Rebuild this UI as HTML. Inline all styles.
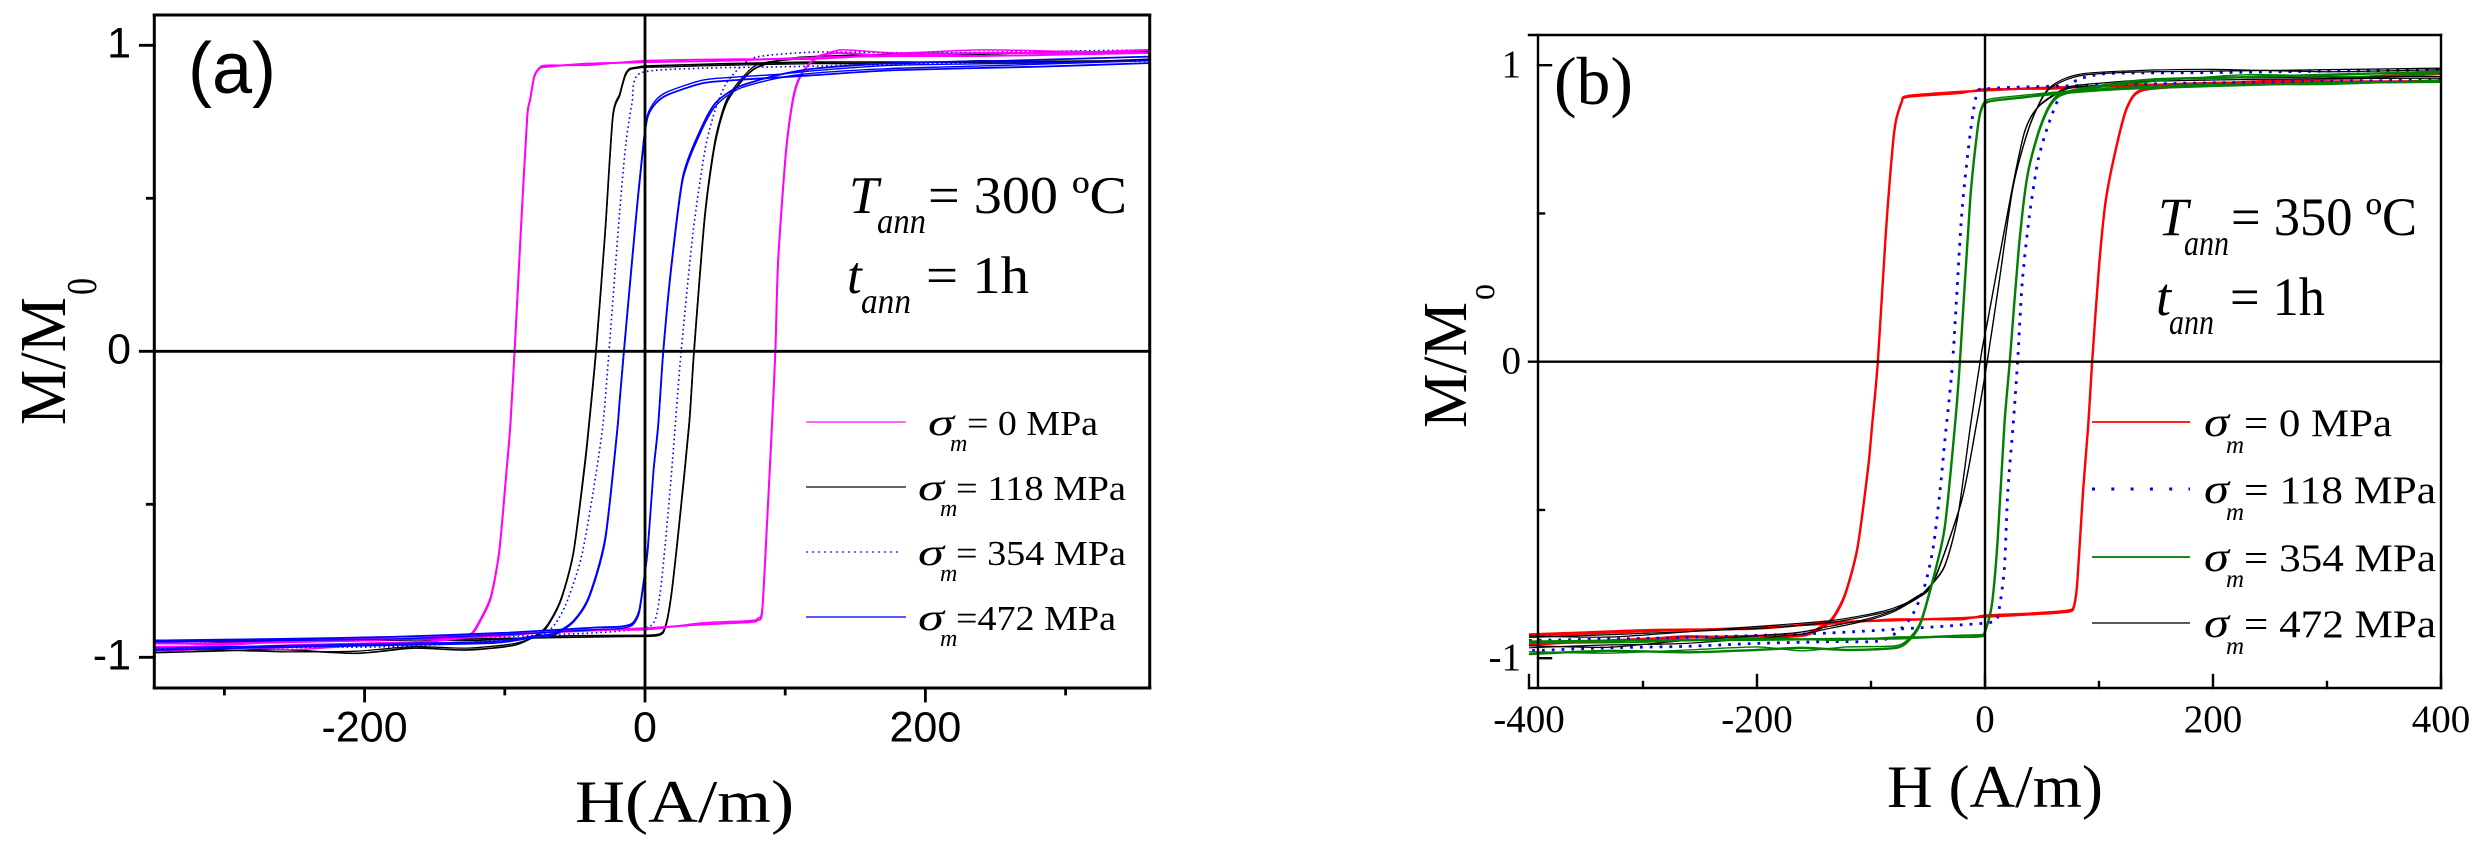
<!DOCTYPE html>
<html lang="en">
<head>
<meta charset="utf-8">
<title>Hysteresis loops</title>
<style>
html,body{margin:0;padding:0;background:#fff;}
svg{display:block;}
.sans{font-family:"Liberation Sans",Arial,sans-serif;}
.serif{font-family:"Liberation Serif","Times New Roman",serif;}
.it{font-style:italic;}
</style>
</head>
<body>
<svg id="figure" xmlns="http://www.w3.org/2000/svg" width="2484" height="850" viewBox="0 0 2484 850">
<rect x="0" y="0" width="2484" height="850" fill="#fff"/>

<g id="panelA">
  <g id="aCurves"></g>
  <g id="aAxes"></g>
  <text class="sans" x="188" y="93" font-size="72" textLength="88" lengthAdjust="spacingAndGlyphs">(a)</text>
  <text class="serif" transform="translate(65,425) rotate(-90)" font-size="66" textLength="128" lengthAdjust="spacingAndGlyphs">M/M</text>
  <text class="serif" transform="translate(96,295) rotate(-90)" font-size="42" textLength="17" lengthAdjust="spacingAndGlyphs">0</text>
  <text class="serif" x="575" y="822" font-size="60" textLength="219" lengthAdjust="spacingAndGlyphs">H(A/m)</text>

  <g>
    <text class="serif it" x="849" y="213" font-size="53">T</text>
    <text class="serif it" x="877" y="233" font-size="36" textLength="49" lengthAdjust="spacingAndGlyphs">ann</text>
    <text class="serif" x="928" y="213" font-size="53" textLength="199" lengthAdjust="spacingAndGlyphs">= 300 ºC</text>
  </g>
  <g>
    <text class="serif it" x="847" y="293" font-size="53">t</text>
    <text class="serif it" x="861" y="313" font-size="36" textLength="50" lengthAdjust="spacingAndGlyphs">ann</text>
    <text class="serif" x="926" y="293" font-size="53" textLength="103" lengthAdjust="spacingAndGlyphs">= 1h</text>
  </g>

  <g>
    <g>
      <line x1="806" x2="906" y1="422" y2="422" stroke="#ff66ff" stroke-width="2"/>
      <text class="serif it" x="928" y="435" font-size="38" textLength="26" lengthAdjust="spacingAndGlyphs">σ</text>
      <text class="serif it" x="950" y="451" font-size="24">m</text>
      <text class="serif" x="967" y="435" font-size="35" textLength="131" lengthAdjust="spacingAndGlyphs">= 0 MPa</text>
    </g>
    <g>
      <line x1="806" x2="906" y1="487" y2="487" stroke="#666" stroke-width="2"/>
      <text class="serif it" x="918" y="500" font-size="38" textLength="26" lengthAdjust="spacingAndGlyphs">σ</text>
      <text class="serif it" x="940" y="516" font-size="24">m</text>
      <text class="serif" x="956" y="500" font-size="35" textLength="170" lengthAdjust="spacingAndGlyphs">= 118 MPa</text>
    </g>
    <g>
      <line x1="806" x2="901" y1="552" y2="552" stroke="#6a6aff" stroke-width="2" stroke-dasharray="2 4"/>
      <text class="serif it" x="918" y="565" font-size="38" textLength="26" lengthAdjust="spacingAndGlyphs">σ</text>
      <text class="serif it" x="940" y="581" font-size="24">m</text>
      <text class="serif" x="956" y="565" font-size="35" textLength="170" lengthAdjust="spacingAndGlyphs">= 354 MPa</text>
    </g>
    <g>
      <line x1="806" x2="906" y1="617" y2="617" stroke="#5a5aff" stroke-width="2"/>
      <text class="serif it" x="918" y="630" font-size="38" textLength="26" lengthAdjust="spacingAndGlyphs">σ</text>
      <text class="serif it" x="940" y="646" font-size="24">m</text>
      <text class="serif" x="956" y="630" font-size="35" textLength="160" lengthAdjust="spacingAndGlyphs">=472 MPa</text>
    </g>
  </g>
</g>

<g id="panelB">
  <g id="bCurves"></g>
  <g id="bAxes"></g>
  <text class="serif" x="1554" y="104" font-size="68" textLength="79" lengthAdjust="spacingAndGlyphs">(b)</text>
  <text class="serif" transform="translate(1466,428) rotate(-90)" font-size="62" textLength="126" lengthAdjust="spacingAndGlyphs">M/M</text>
  <text class="serif" transform="translate(1494,300) rotate(-90)" font-size="38" textLength="16" lengthAdjust="spacingAndGlyphs">o</text>
  <text class="serif" x="1887" y="807" font-size="60" textLength="216" lengthAdjust="spacingAndGlyphs">H (A/m)</text>

  <g>
    <text class="serif it" x="2158" y="235" font-size="54">T</text>
    <text class="serif it" x="2184" y="255" font-size="36" textLength="45" lengthAdjust="spacingAndGlyphs">ann</text>
    <text class="serif" x="2231" y="235" font-size="54" textLength="186" lengthAdjust="spacingAndGlyphs">= 350 ºC</text>
  </g>
  <g>
    <text class="serif it" x="2156" y="315" font-size="54">t</text>
    <text class="serif it" x="2169" y="334" font-size="36" textLength="45" lengthAdjust="spacingAndGlyphs">ann</text>
    <text class="serif" x="2230" y="315" font-size="54" textLength="95" lengthAdjust="spacingAndGlyphs">= 1h</text>
  </g>

  <g>
    <g>
      <line x1="2092" x2="2190" y1="422" y2="422" stroke="#ff2222" stroke-width="2"/>
      <text class="serif it" x="2204" y="436" font-size="42" textLength="25" lengthAdjust="spacingAndGlyphs">σ</text>
      <text class="serif it" x="2226" y="453" font-size="25">m</text>
      <text class="serif" x="2244" y="436" font-size="39" textLength="148" lengthAdjust="spacingAndGlyphs">= 0 MPa</text>
    </g>
    <g>
      <line x1="2092" x2="2190" y1="489" y2="489" stroke="#0000ee" stroke-width="3" stroke-dasharray="3 16.3"/>
      <text class="serif it" x="2204" y="503" font-size="42" textLength="25" lengthAdjust="spacingAndGlyphs">σ</text>
      <text class="serif it" x="2226" y="520" font-size="25">m</text>
      <text class="serif" x="2244" y="503" font-size="39" textLength="192" lengthAdjust="spacingAndGlyphs">= 118 MPa</text>
    </g>
    <g>
      <line x1="2092" x2="2190" y1="557" y2="557" stroke="#1a8a1a" stroke-width="2"/>
      <text class="serif it" x="2204" y="571" font-size="42" textLength="25" lengthAdjust="spacingAndGlyphs">σ</text>
      <text class="serif it" x="2226" y="587" font-size="25">m</text>
      <text class="serif" x="2244" y="571" font-size="39" textLength="192" lengthAdjust="spacingAndGlyphs">= 354 MPa</text>
    </g>
    <g>
      <line x1="2092" x2="2190" y1="623" y2="623" stroke="#222" stroke-width="1.6"/>
      <text class="serif it" x="2204" y="637" font-size="42" textLength="25" lengthAdjust="spacingAndGlyphs">σ</text>
      <text class="serif it" x="2226" y="654" font-size="25">m</text>
      <text class="serif" x="2244" y="637" font-size="39" textLength="192" lengthAdjust="spacingAndGlyphs">= 472 MPa</text>
    </g>
  </g>
</g>
</svg>

<script>
/* ---------- Panel (a) tick data ---------- */
const aXMajorTicks = [-200, 0, 200];
const aXMinorTicks = [-300, -100, 100, 300];
const aYMajorTicks = [1, 0, -1];
const aYMinorTicks = [0.5, -0.5];
const aXTickLabels = ['-200', '0', '200'];
const aYTickLabels = ['1', '0', '-1'];

/* ---------- Panel (a) loops: H (A/m) and M/M0 ---------- */
const aMagDownH = [360,300,240,180,120,60,0,-40,-70,-75,-79,-82,-84,-88,-93,-96,-99,-104,-110,-118,-124,-135,-159,-200,-250,-300,-350];
const aMagDownM1 = [.975,.97,.965,.965,.96,.95,.945,.94,.93,.925,.897,.82,.766,.44,0,-.24,-.404,-.656,-.806,-.885,-.927,-.94,-.949,-.955,-.96,-.97,-.98];
const aMagDownM2 = [.985,.975,.975,.97,.955,.955,.95,.935,.935,.928,.9,.825,.77,.45,.01,-.23,-.4,-.65,-.8,-.88,-.922,-.935,-.955,-.96,-.975,-.965,-.965];
const aMagUpH = [-350,-300,-250,-200,-150,-100,-50,0,40,75,80.6,83.6,87,90.6,93,95,100.7,106,112,123,140,180,240,300,360];
const aMagUpM1 = [-.955,-.955,-.95,-.945,-.935,-.925,-.915,-.905,-.893,-.885,-.878,-.85,-.567,-.24,0,.298,.658,.832,.908,.963,.975,.965,.975,.975,.985];
const aMagUpM2 = [-.95,-.96,-.945,-.94,-.94,-.93,-.91,-.91,-.888,-.88,-.872,-.84,-.56,-.23,.01,.305,.665,.84,.912,.958,.985,.975,.985,.98,.975];

const aBlkDownH = [360,300,240,180,120,60,20,0,-6,-11,-14,-16.6,-18,-23,-28.5,-35,-40,-43,-51,-59.6,-68,-75,-93,-127,-166,-206,-260,-310,-350];
const aBlkDownM1 = [.95,.948,.945,.945,.945,.94,.935,.932,.928,.923,.905,.865,.84,.766,.386,0,-.24,-.37,-.656,-.806,-.884,-.92,-.96,-.976,-.97,-.987,-.975,-.98,-.985];
const aBlkDownM2 = [.955,.945,.95,.94,.94,.935,.93,.928,.925,.92,.9,.86,.835,.76,.38,-.01,-.25,-.38,-.66,-.81,-.888,-.925,-.955,-.97,-.965,-.98,-.982,-.975,-.98];
const aBlkUpH = [-350,-280,-200,-120,-60,-20,9,14.6,18.8,24.4,31.5,35,42.7,50,58,69.6,81,109,180,240,300,360];
const aBlkUpM1 = [-.945,-.95,-.945,-.94,-.935,-.932,-.929,-.9,-.796,-.567,-.24,0,.44,.68,.81,.887,.93,.96,.971,.975,.975,.98];
const aBlkUpM2 = [-.95,-.945,-.94,-.945,-.93,-.928,-.925,-.895,-.79,-.56,-.23,.01,.45,.69,.82,.895,.938,.955,.966,.97,.98,.975];

const aDotDownH = [360,280,200,100,40,-3.8,-9.3,-13.6,-18,-25.7,-30,-37,-45.6,-56.7,-66.6,-79,-120,-177,-250,-350];
const aDotDownM = [.948,.945,.94,.93,.925,.908,.81,.68,.46,0,-.24,-.46,-.677,-.83,-.905,-.933,-.95,-.965,-.968,-.972];
const aDotUpH = [-350,-250,-150,-60,-20,4.7,10.3,14.6,18.8,21.6,25.8,34.2,42.8,50,58,69.6,81,123,200,280,360];
const aDotUpM = [-.955,-.95,-.94,-.925,-.915,-.895,-.806,-.622,-.404,-.24,0,.386,.658,.788,.876,.936,.963,.978,.975,.98,.985];

const aBluDownH = [360,280,180,123,95,67,41,16,7.6,2,-1,-6.3,-15,-18,-20,-28.5,-40,-51,-65,-82,-108,-180,-291,-350];
const aBluDownM1 = [.942,.93,.919,.903,.895,.887,.876,.838,.81,.767,.68,.44,0,-.16,-.27,-.62,-.806,-.884,-.927,-.937,-.953,-.96,-.97,-.976];
const aBluDownM2 = [.95,.942,.935,.918,.905,.897,.886,.848,.82,.775,.69,.45,.01,-.15,-.26,-.61,-.8,-.88,-.922,-.932,-.948,-.955,-.965,-.97];
const aBluUpH = [-350,-260,-178,-100,-37,-18,-9.3,-4.3,-1,2,6,9.4,13,18.7,27,38.5,50,67,95,123,180,260,360];
const aBluUpM1 = [-.945,-.94,-.933,-.92,-.903,-.9,-.89,-.85,-.753,-.644,-.393,-.24,0,.276,.57,.713,.81,.865,.903,.925,.942,.95,.963];
const aBluUpM2 = [-.95,-.945,-.94,-.926,-.91,-.906,-.896,-.858,-.76,-.65,-.4,-.25,-.01,.266,.56,.703,.8,.858,.893,.91,.925,.935,.95];

/* ---------- Panel (b) tick data ---------- */
const bXMajorTicks = [-400, -200, 0, 200, 400];
const bXMinorTicks = [-300, -100, 100, 300];
const bYMajorTicks = [1, -1];
const bYMinorTicks = [0.5, -0.5];
const bXTickLabels = ['-400', '-200', '0', '200', '400'];
const bYTickLabels = ['1', '0', '-1'];
const bYLabelValues = [1, 0, -1];

/* ---------- Panel (b) loops ---------- */
const bRedDownH = [400,300,200,120,60,0,-22,-68,-73,-78,-81,-87,-94,-99,-102.6,-112,-123,-134,-144,-159,-200,-262,-330,-400];
const bRedDownM1 = [.945,.945,.94,.93,.925,.915,.91,.896,.877,.815,.725,.434,0,-.213,-.36,-.63,-.787,-.866,-.894,-.92,-.925,-.93,-.94,-.955];
const bRedDownM2 = [.95,.94,.935,.935,.92,.92,.905,.892,.872,.81,.72,.43,-.005,-.218,-.365,-.636,-.793,-.872,-.9,-.925,-.932,-.925,-.945,-.948];
const bRedUpH = [-400,-350,-294,-200,-137,-80,-22,0,40,73,78,81,86,90.6,94,100,106,116,125,139,197,260,330,400];
const bRedUpM1 = [-.92,-.913,-.905,-.9,-.88,-.872,-.865,-.86,-.852,-.843,-.826,-.742,-.438,-.213,0,.32,.545,.737,.86,.916,.933,.945,.96,.975];
const bRedUpM2 = [-.925,-.918,-.91,-.895,-.885,-.868,-.87,-.855,-.848,-.838,-.82,-.736,-.43,-.205,.006,.325,.55,.742,.865,.92,.938,.95,.955,.97];

const bGrnDownH = [400,300,200,120,65.5,30,3,-3.4,-7,-13,-22,-26,-35,-43,-56,-65,-78,-122,-160,-200,-260,-330,-400];
const bGrnDownM1 = [.944,.94,.93,.92,.905,.89,.877,.849,.77,.545,0,-.2,-.55,-.696,-.877,-.933,-.965,-.972,-.965,-.972,-.98,-.975,-.986];
const bGrnDownM2 = [.95,.935,.935,.925,.91,.897,.885,.855,.775,.55,.005,-.195,-.545,-.69,-.87,-.926,-.958,-.962,-.975,-.962,-.972,-.983,-.978];
const bGrnUpH = [-400,-300,-200,-130,-74,-22,-3.4,0,6,11,17,21.7,29.5,37,46.6,56,67,100,147,230,320,400];
const bGrnUpM1 = [-.944,-.94,-.938,-.935,-.933,-.924,-.922,-.91,-.82,-.607,-.213,0,.377,.623,.77,.86,.905,.93,.952,.96,.97,.978];
const bGrnUpM2 = [-.95,-.946,-.932,-.94,-.928,-.93,-.928,-.916,-.826,-.613,-.22,-.006,.37,.616,.763,.853,.898,.925,.945,.968,.962,.972];

const bDotDownH = [400,280,160,70,20,0,-6,-9.6,-14,-20.6,-28.4,-35,-39.5,-45.6,-53.5,-66.7,-90,-134,-200,-262,-330,-400];
const bDotDownM = [.95,.945,.938,.93,.925,.92,.915,.86,.737,.488,0,-.257,-.438,-.63,-.763,-.872,-.94,-.944,-.95,-.96,-.965,-.975];
const bDotUpH = [-400,-262,-137,-43,-22,7.5,12,17,20,24.7,28.6,32.6,38.8,46.6,56,67,81,109,200,300,400];
const bDotUpM = [-.94,-.93,-.915,-.894,-.888,-.877,-.843,-.696,-.438,-.213,0,.265,.488,.68,.804,.905,.95,.972,.975,.98,.984];

const bBlkDownH = [400,300,200,140,103,72,47,34.4,22,3,-3,-12.6,-24,-36,-53.5,-59,-81,-106,-137,-168,-262,-330,-400];
const bBlkDownM1 = [.956,.955,.95,.945,.933,.92,.86,.77,.545,.15,.03,-.213,-.527,-.696,-.78,-.797,-.845,-.875,-.9,-.922,-.95,-.955,-.965];
const bBlkDownM2 = [.962,.96,.956,.95,.94,.925,.862,.772,.548,.153,.033,-.21,-.524,-.693,-.777,-.79,-.84,-.87,-.893,-.915,-.94,-.963,-.958];
const bBlkUpH = [-400,-325,-200,-137,-106,-81,-59,-45,-20.6,-7.5,2,12.3,24.7,38.8,52.8,67,87.5,134,200,300,400];
const bBlkUpM1 = [-.93,-.92,-.9,-.88,-.86,-.838,-.797,-.742,-.472,-.213,0,.265,.59,.79,.905,.944,.967,.977,.98,.985,.99];
const bBlkUpM2 = [-.925,-.928,-.893,-.874,-.855,-.832,-.794,-.739,-.469,-.21,.003,.268,.593,.793,.908,.95,.972,.982,.986,.978,.985];

/* ---------- Axis functions ---------- */
function aX(h) { return 645 + 1.402 * h; }
function aY(m) { return 351.3 - 306 * m; }
function bX(h) { return 1985 + 1.14 * h; }
function bY(m) { return 361.7 - 296.5 * m; }

const SVG_NS = 'http://www.w3.org/2000/svg';

function smoothPath(xs, ys) {
  let d = 'M' + xs[0].toFixed(2) + ' ' + ys[0].toFixed(2);
  for (let i = 0; i < xs.length - 1; i++) {
    const p0 = Math.max(i - 1, 0), p3 = Math.min(i + 2, xs.length - 1);
    const c1x = xs[i] + (xs[i + 1] - xs[p0]) / 8;
    const c1y = ys[i] + (ys[i + 1] - ys[p0]) / 8;
    const c2x = xs[i + 1] - (xs[p3] - xs[i]) / 8;
    const c2y = ys[i + 1] - (ys[p3] - ys[i]) / 8;
    d += 'C' + c1x.toFixed(2) + ' ' + c1y.toFixed(2) + ' ' + c2x.toFixed(2) + ' ' + c2y.toFixed(2) + ' ' + xs[i + 1].toFixed(2) + ' ' + ys[i + 1].toFixed(2);
  }
  return d;
}

function drawTrace(parent, xFn, yFn, hs, ms, name, color, width, dash) {
  const el = document.createElementNS(SVG_NS, 'path');
  el.setAttribute('d', smoothPath(hs.map(xFn), ms.map(yFn)));
  el.setAttribute('fill', 'none');
  el.setAttribute('stroke', color);
  el.setAttribute('stroke-width', width);
  el.setAttribute('stroke-linejoin', 'round');
  if (dash) el.setAttribute('stroke-dasharray', dash);
  
  
  parent.appendChild(el);
}

function drawLine(parent, x1, y1, x2, y2, width, name) {
  const el = document.createElementNS(SVG_NS, 'line');
  el.setAttribute('x1', x1);
  el.setAttribute('y1', y1);
  el.setAttribute('x2', x2);
  el.setAttribute('y2', y2);
  el.setAttribute('stroke', '#000');
  el.setAttribute('stroke-width', width);
  el.setAttribute('stroke-linecap', 'square');
  
  
  parent.appendChild(el);
}

function drawLabel(parent, x, y, str, cls, size, anchor, name) {
  const el = document.createElementNS(SVG_NS, 'text');
  el.setAttribute('x', x);
  el.setAttribute('y', y);
  el.setAttribute('class', cls);
  el.setAttribute('font-size', size);
  el.setAttribute('text-anchor', anchor);
  
  
  el.textContent = str;
  parent.appendChild(el);
}

/* ---------- Panel (a) ---------- */
const aCurves = document.getElementById('aCurves');
const aAxes = document.getElementById('aAxes');
const BLK = '#000', MAG = '#ff00ff', BLU = '#0000ff', RED = '#ff0000', GRN = '#008000';

drawTrace(aCurves, aX, aY, aBlkDownH, aBlkDownM1, 'curve-a-118-mpa-descending', BLK, 1.7);
drawTrace(aCurves, aX, aY, aBlkDownH, aBlkDownM2, 'curve-a-118-mpa-descending-repeat', BLK, 1.3);
drawTrace(aCurves, aX, aY, aBlkUpH, aBlkUpM1, 'curve-a-118-mpa-ascending', BLK, 1.7);
drawTrace(aCurves, aX, aY, aBlkUpH, aBlkUpM2, 'curve-a-118-mpa-ascending-repeat', BLK, 1.3);
drawTrace(aCurves, aX, aY, aDotDownH, aDotDownM, 'curve-a-354-mpa-descending', BLU, 1.6, '1.6 3');
drawTrace(aCurves, aX, aY, aDotUpH, aDotUpM, 'curve-a-354-mpa-ascending', BLU, 1.6, '1.6 3');
drawTrace(aCurves, aX, aY, aMagDownH, aMagDownM1, 'curve-a-0-mpa-descending', MAG, 2);
drawTrace(aCurves, aX, aY, aMagDownH, aMagDownM2, 'curve-a-0-mpa-descending-repeat', MAG, 1.5);
drawTrace(aCurves, aX, aY, aMagUpH, aMagUpM1, 'curve-a-0-mpa-ascending', MAG, 2);
drawTrace(aCurves, aX, aY, aMagUpH, aMagUpM2, 'curve-a-0-mpa-ascending-repeat', MAG, 1.5);
drawTrace(aCurves, aX, aY, aBluDownH, aBluDownM1, 'curve-a-472-mpa-descending', BLU, 1.8);
drawTrace(aCurves, aX, aY, aBluDownH, aBluDownM2, 'curve-a-472-mpa-descending-repeat', BLU, 1.4);
drawTrace(aCurves, aX, aY, aBluUpH, aBluUpM1, 'curve-a-472-mpa-ascending', BLU, 1.8);
drawTrace(aCurves, aX, aY, aBluUpH, aBluUpM2, 'curve-a-472-mpa-ascending-repeat', BLU, 1.4);

const aLeft = aX(-350), aRight = aX(360), aTop = 15, aBottom = 688;
drawLine(aAxes, aLeft, aTop, aRight, aTop, 3, 'panel-a-top-border');
drawLine(aAxes, aRight, aTop, aRight, aBottom, 3, 'panel-a-right-border');
drawLine(aAxes, aLeft, aBottom, aRight, aBottom, 3, 'panel-a-x-axis');
drawLine(aAxes, aLeft, aTop, aLeft, aBottom, 3, 'panel-a-y-axis');
drawLine(aAxes, aX(0), aTop, aX(0), aBottom, 2.8, 'panel-a-zero-vertical-line');
drawLine(aAxes, aLeft, aY(0), aRight, aY(0), 2.8, 'panel-a-zero-horizontal-line');
aXMajorTicks.forEach(function (v) { drawLine(aAxes, aX(v), aBottom, aX(v), aBottom + 13, 2.8, 'panel-a-x-major-tick'); });
aXMinorTicks.forEach(function (v) { drawLine(aAxes, aX(v), aBottom, aX(v), aBottom + 6, 2.8, 'panel-a-x-minor-tick'); });
aYMajorTicks.forEach(function (v) { drawLine(aAxes, aLeft, aY(v), aLeft - 14, aY(v), 2.8, 'panel-a-y-major-tick'); });
aYMinorTicks.forEach(function (v) { drawLine(aAxes, aLeft, aY(v), aLeft - 7, aY(v), 2.8, 'panel-a-y-minor-tick'); });
aXMajorTicks.forEach(function (v, i) { drawLabel(aAxes, aX(v), 741.7, aXTickLabels[i], 'sans', 43, 'middle', 'panel-a-x-tick-label'); });
aYMajorTicks.forEach(function (v, i) { drawLabel(aAxes, 131, aY(v) + 12, aYTickLabels[i], 'sans', 43, 'end', 'panel-a-y-tick-label'); });

/* ---------- Panel (b) ---------- */
const bCurves = document.getElementById('bCurves');
const bAxes = document.getElementById('bAxes');

drawTrace(bCurves, bX, bY, bRedDownH, bRedDownM1, 'curve-b-0-mpa-descending', RED, 2.4);
drawTrace(bCurves, bX, bY, bRedDownH, bRedDownM2, 'curve-b-0-mpa-descending-repeat', RED, 1.6);
drawTrace(bCurves, bX, bY, bRedUpH, bRedUpM1, 'curve-b-0-mpa-ascending', RED, 2.4);
drawTrace(bCurves, bX, bY, bRedUpH, bRedUpM2, 'curve-b-0-mpa-ascending-repeat', RED, 1.6);
drawTrace(bCurves, bX, bY, bDotDownH, bDotDownM, 'curve-b-118-mpa-descending', '#0000ee', 2.8, '2.8 7');
drawTrace(bCurves, bX, bY, bDotUpH, bDotUpM, 'curve-b-118-mpa-ascending', '#0000ee', 2.8, '2.8 7');
drawTrace(bCurves, bX, bY, bBlkDownH, bBlkDownM1, 'curve-b-472-mpa-descending', BLK, 1.2);
drawTrace(bCurves, bX, bY, bBlkDownH, bBlkDownM2, 'curve-b-472-mpa-descending-repeat', BLK, 1.2);
drawTrace(bCurves, bX, bY, bBlkUpH, bBlkUpM1, 'curve-b-472-mpa-ascending', BLK, 1.2);
drawTrace(bCurves, bX, bY, bBlkUpH, bBlkUpM2, 'curve-b-472-mpa-ascending-repeat', BLK, 1.2);
drawTrace(bCurves, bX, bY, bGrnDownH, bGrnDownM1, 'curve-b-354-mpa-descending', GRN, 2.4);
drawTrace(bCurves, bX, bY, bGrnDownH, bGrnDownM2, 'curve-b-354-mpa-descending-repeat', GRN, 1.4);
drawTrace(bCurves, bX, bY, bGrnUpH, bGrnUpM1, 'curve-b-354-mpa-ascending', GRN, 2.4);
drawTrace(bCurves, bX, bY, bGrnUpH, bGrnUpM2, 'curve-b-354-mpa-ascending-repeat', GRN, 1.4);

const bLeft = bX(-400), bRight = bX(400), bTop = 35, bBottom = 688, bAxisX = 1538;
drawLine(bAxes, bLeft, bTop, bRight, bTop, 2.4, 'panel-b-top-border');
drawLine(bAxes, bRight, bTop, bRight, bBottom, 2.4, 'panel-b-right-border');
drawLine(bAxes, bLeft, bBottom, bRight, bBottom, 2.4, 'panel-b-x-axis');
drawLine(bAxes, bAxisX, bTop, bAxisX, bBottom, 2.4, 'panel-b-y-axis');
drawLine(bAxes, bX(0), bTop, bX(0), bBottom, 2.4, 'panel-b-zero-vertical-line');
drawLine(bAxes, bLeft, bY(0), bRight, bY(0), 2.4, 'panel-b-zero-horizontal-line');
bXMajorTicks.forEach(function (v) { drawLine(bAxes, bX(v), bBottom, bX(v), bBottom - 13, 2.4, 'panel-b-x-major-tick'); });
bXMinorTicks.forEach(function (v) { drawLine(bAxes, bX(v), bBottom, bX(v), bBottom - 6, 2.4, 'panel-b-x-minor-tick'); });
bYMajorTicks.forEach(function (v) { drawLine(bAxes, bAxisX, bY(v), bAxisX + 13, bY(v), 2.4, 'panel-b-y-major-tick'); });
bYMinorTicks.forEach(function (v) { drawLine(bAxes, bAxisX, bY(v), bAxisX + 6, bY(v), 2.4, 'panel-b-y-minor-tick'); });
bXMajorTicks.forEach(function (v, i) { drawLabel(bAxes, bX(v), 732, bXTickLabels[i], 'serif', 39, 'middle', 'panel-b-x-tick-label'); });
bYLabelValues.forEach(function (v, i) { drawLabel(bAxes, 1521, bY(v) + 12, bYTickLabels[i], 'serif', 39, 'end', 'panel-b-y-tick-label'); });
</script>
</body>
</html>
